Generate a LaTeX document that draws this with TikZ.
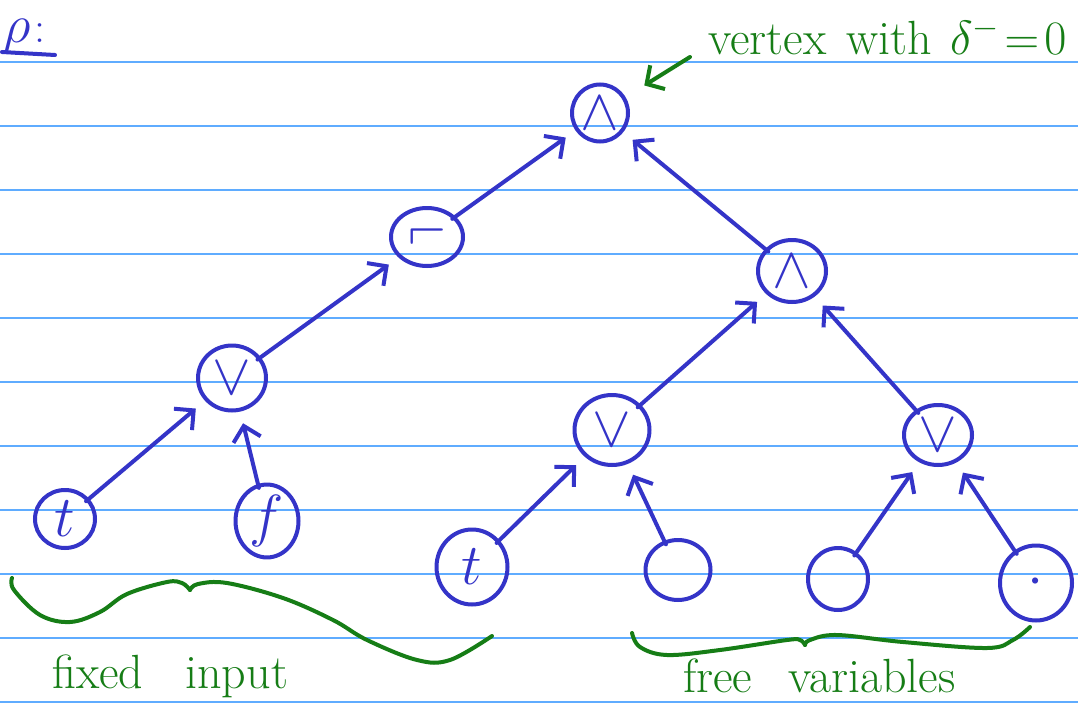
\RequirePackage{fix-cm}
\documentclass[tikz,border=0pt]{standalone}
\usepackage{graphicx}
\usetikzlibrary{arrows.meta,shapes.geometric}
\definecolor{ink}{RGB}{52,52,200}
\definecolor{pen}{RGB}{22,125,22}
\definecolor{rule}{RGB}{95,172,255}
\tikzset{
  vtx/.style={draw=ink, ellipse, line width=4pt, inner sep=0pt, text=ink,
    font=\fontsize{58}{58}\selectfont},
  edge/.style={draw=ink, line width=4pt, line cap=round, line join=round,
    -{Straight Barb[length=14pt,width=28pt]}, shorten <=-4pt, shorten >=12pt},
  note/.style={text=pen, inner sep=0pt, font=\fontsize{48}{48}\selectfont},
  brace/.style={draw=pen, line width=4pt, line cap=round, line join=round},
  pointer/.style={draw=pen, line width=4pt, line cap=round, line join=round,
    -{Straight Barb[length=13pt,width=28pt]}, shorten >=22pt},
}
\begin{document}
\begin{tikzpicture}[x=1pt,y=-1pt]
\fill[white] (0,0) rectangle (1078,709);
\useasboundingbox (0,0) rectangle (1078,709);

% ruled paper
\foreach \y in {62,126,...,702}
  \draw[rule, line width=1.4pt] (0,\y) -- (1078,\y);

% heading
\node[text=ink, inner sep=0pt, anchor=base, font=\fontsize{54}{54}\selectfont] (head) at (17,42) {$\rho$};
\node[text=ink, inner sep=0pt, anchor=base, font=\fontsize{44}{44}\selectfont] (colon) at (40,42) {:};
\draw[ink, line width=4pt, line cap=round] (2,52) -- (55,55);

% vertices of the circuit
\node[vtx, minimum width=56pt, minimum height=57pt] (root) at (600,113) {$\wedge$};
\node[vtx, minimum width=72pt, minimum height=58pt] (neg)  at (427,237) {\reflectbox{$\neg$}};
\node[vtx, minimum width=68pt, minimum height=62pt] (ra)   at (792,271) {$\wedge$};
\node[vtx, minimum width=68pt, minimum height=65pt] (vl)   at (232,378) {$\vee$};
\node[vtx, minimum width=75pt, minimum height=70pt] (vm)   at (612,430) {$\vee$};
\node[vtx, minimum width=68pt, minimum height=60pt] (vr)   at (938,435) {$\vee$};
\node[vtx, minimum width=60pt, minimum height=58pt] (tl)   at (65,519)  {$t$};
\node[vtx, minimum width=63pt, minimum height=67pt] (f)    at (267,521) {$f$};
\node[vtx, minimum width=71pt, minimum height=75pt] (tm)   at (472,567) {$t$};
\node[vtx, minimum width=65pt, minimum height=60pt] (e1)   at (678,570) {};
\node[vtx, minimum width=60pt, minimum height=62pt] (e2)   at (838,579) {};
\node[vtx, minimum width=72pt, minimum height=75pt] (e3)   at (1036,583) {$\cdot$};

% wires
\draw[edge] (tl) -- (vl);
\draw[edge] (f) -- (vl);
\draw[edge] (vl) -- (neg);
\draw[edge] (neg) -- (root);
\draw[edge] (ra) -- (root);
\draw[edge] (vm) -- (ra);
\draw[edge] (vr) -- (ra);
\draw[edge] (tm) -- (vm);
\draw[edge] (e1) -- (vm);
\draw[edge] (e2) -- (vr);
\draw[edge] (e3) -- (vr);

% annotation of the output vertex
\coordinate (ptr) at (690,57);
\draw[pointer] (ptr) -- (root);
\node[note, anchor=base west] (out) at (708,55)
  {vertex\hspace{20pt}with\hspace{18pt}$\delta^{-}\!=\!0$};

% brace over the fixed inputs
\draw[brace] plot[smooth, tension=0.6] coordinates
  {(12,578) (14,590) (40,615) (70,622) (100,612) (127,594) (167,582) (182,583) (190,590)};
\draw[brace] plot[smooth, tension=0.6] coordinates
  {(190,590) (198,584) (227,583) (283,598) (333,620) (367,640) (417,660) (450,660) (492,636)};
\node[note, anchor=base west] (fixed) at (52,688) {fixed\hspace{42pt}input};

% brace over the free variables
\draw[brace] plot[smooth, tension=0.6] coordinates
  {(632,633) (640,647) (667,655) (720,650) (787,640) (800,640) (805,645)};
\draw[brace] plot[smooth, tension=0.6] coordinates
  {(805,645) (810,640) (837,635) (903,642) (987,648) (1013,640) (1030,627)};
\node[note, anchor=base west] (free) at (683,692) {free\hspace{36pt}variables};
\end{tikzpicture}
\end{document}
